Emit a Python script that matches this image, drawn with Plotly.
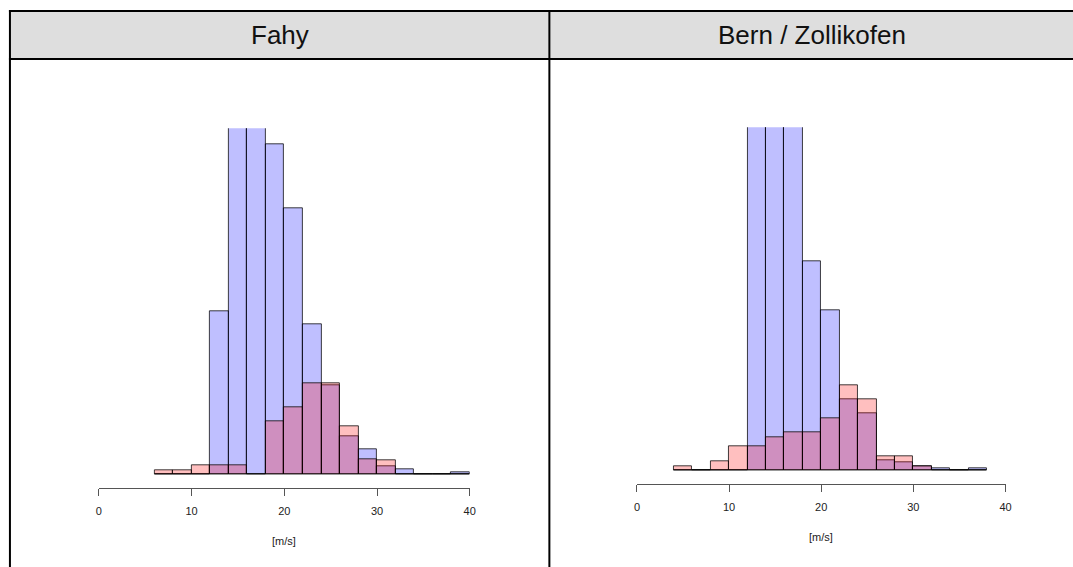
import plotly.graph_objects as go

W, H = 1073, 567

# ---- data (relative frequency, arbitrary units) ----
fahy_centers = [7, 9, 11, 13, 15, 17, 19, 21, 23, 25, 27, 29, 31, 33, 35, 37, 39]
fahy_blue = [0, 0, 0, 163, 430, 410, 330, 265.7, 149.7, 88.7, 38, 24.7, 7.3, 4.7, 0, 0, 2]
fahy_pink = [4, 4, 9, 9, 9, 0, 52.3, 67, 90.7, 90.7, 48, 14.7, 14, 0, 0, 0, 0]

bern_centers = [5, 7, 9, 11, 13, 15, 17, 19, 21, 23, 25, 27, 29, 31, 33, 35, 37]
bern_blue = [0, 0, 0, 0, 400, 420, 380, 209, 159.7, 70.3, 56.3, 10, 8, 3.7, 1.3, 0, 1.7]
bern_pink = [4, 0, 9, 23.3, 23.3, 32.3, 37.7, 37.7, 52, 84.7, 70.3, 14, 14, 3.7, 0, 0, 0]

titles = ["Fahy", "Bern / Zollikofen"]
tick_vals = [0, 10, 20, 30, 40]
tick_text = ["0", "10", "20", "30", "40"]
axis_label = "[m/s]"

BLUE = "rgba(0,0,255,0.25)"
PINK = "rgba(255,0,0,0.25)"
EDGE = "rgba(0,0,0,0.75)"


def px(x):
    return x / W


def py(y):
    return 1 - y / H


fig = go.Figure()

panels = [
    dict(c=fahy_centers, b=fahy_blue, p=fahy_pink, xa="x", ya="y",
         xdom=[px(96.7), px(470.7)], ax_y=487.7, base=474, top=128.3),
    dict(c=bern_centers, b=bern_blue, p=bern_pink, xa="x2", ya="y2",
         xdom=[px(639.3), px(1011)], ax_y=484, base=470, top=127.3),
]

layout_axes = {}
for i, pn in enumerate(panels):
    fig.add_trace(go.Bar(x=pn["c"], y=pn["b"], width=2, xaxis=pn["xa"], yaxis=pn["ya"],
                         marker=dict(color=BLUE, line=dict(color=EDGE, width=1)),
                         showlegend=False, hoverinfo="skip"))
    fig.add_trace(go.Bar(x=pn["c"], y=pn["p"], width=2, xaxis=pn["xa"], yaxis=pn["ya"],
                         marker=dict(color=PINK, line=dict(color=EDGE, width=1)),
                         showlegend=False, hoverinfo="skip"))
    sfx = "" if i == 0 else "2"
    layout_axes["xaxis" + sfx] = dict(
        domain=pn["xdom"], range=[0, 40], anchor="y" + sfx,
        tickvals=tick_vals, ticktext=tick_text, ticks="outside", ticklen=7,
        tickcolor="#555", tickwidth=1, showline=True, linecolor="#555", linewidth=1,
        showgrid=False, zeroline=False, ticklabelstandoff=6,
        tickfont=dict(family="Liberation Sans, Arial", size=11, color="#222"),
        fixedrange=True,
    )
    layout_axes["yaxis" + sfx] = dict(
        domain=[py(pn["ax_y"]), py(pn["top"])],
        range=[-(pn["ax_y"] - pn["base"]), pn["base"] - pn["top"]],
        anchor="x" + sfx, visible=False, showgrid=False, zeroline=False,
        fixedrange=True,
    )

shapes = [
    # header background
    dict(type="rect", xref="paper", yref="paper", x0=px(7), x1=px(1085), y0=py(59), y1=py(11),
         fillcolor="#dedede", line=dict(width=0), layer="below"),
    # top border
    dict(type="line", xref="paper", yref="paper", x0=px(6), x1=px(1085), y0=py(11), y1=py(11),
         line=dict(color="black", width=2)),
    # header bottom
    dict(type="line", xref="paper", yref="paper", x0=px(6), x1=px(1085), y0=py(59), y1=py(59),
         line=dict(color="black", width=2)),
    # left border
    dict(type="line", xref="paper", yref="paper", x0=px(7), x1=px(7), y0=py(10), y1=py(575),
         line=dict(color="black", width=2)),
    # divider
    dict(type="line", xref="paper", yref="paper", x0=px(551), x1=px(551), y0=py(10), y1=py(575),
         line=dict(color="black", width=2)),
]

annotations = [
    dict(text=titles[0], xref="paper", yref="paper", x=px(279), y=py(35), showarrow=False,
         xanchor="center", yanchor="middle",
         font=dict(family="Liberation Sans, Arial", size=26, color="#111")),
    dict(text=titles[1], xref="paper", yref="paper", x=px(816), y=py(35), showarrow=False,
         xanchor="center", yanchor="middle",
         font=dict(family="Liberation Sans, Arial", size=26, color="#111")),
    dict(text=axis_label, xref="x", yref="paper", x=20, y=py(541), showarrow=False,
         xanchor="center", yanchor="middle",
         font=dict(family="Liberation Sans, Arial", size=11, color="#222")),
    dict(text=axis_label, xref="x2", yref="paper", x=20, y=py(537), showarrow=False,
         xanchor="center", yanchor="middle",
         font=dict(family="Liberation Sans, Arial", size=11, color="#222")),
]

fig.update_layout(
    width=W, height=H, margin=dict(l=0, r=0, t=0, b=0),
    paper_bgcolor="white", plot_bgcolor="rgba(0,0,0,0)",
    barmode="overlay", bargap=0,
    shapes=shapes, annotations=annotations,
    **layout_axes,
)

fig.write_html("out.html", config={"displayModeBar": False})
